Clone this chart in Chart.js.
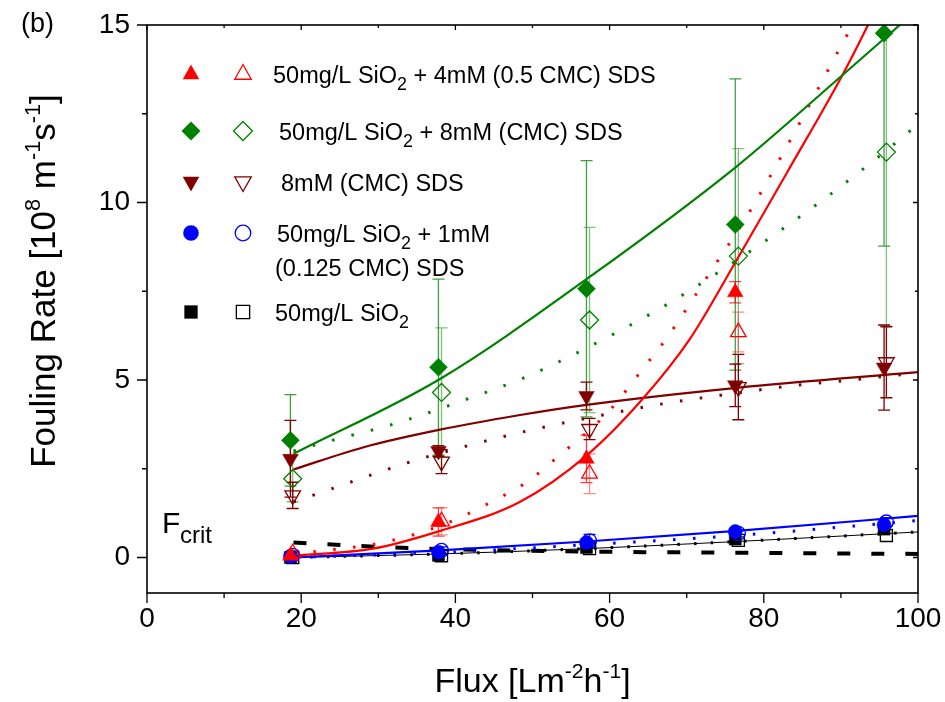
<!DOCTYPE html>
<html>
<head>
<meta charset="utf-8">
<script src="https://cdn.jsdelivr.net/npm/chart.js@4.4.0/dist/chart.umd.min.js"></script>
<style>
html, body { margin: 0; padding: 0; background: #fff; }
#wrap { width: 945px; height: 702px; }
</style>
</head>
<body>
<div id="wrap"><canvas id="fouling" width="945" height="702"></canvas></div>
<script>
var FONT = '"Liberation Sans", Arial, Helvetica, sans-serif';

// flux of the measured points (filled and open markers sit slightly apart)
var fluxFilled = [18.6, 37.8, 57.0, 76.3, 95.6];
var fluxOpen = [18.9, 38.2, 57.4, 76.7, 95.9];

var xTicks = [0, 20, 40, 60, 80, 100];
var yTicks = [0, 5, 10, 15];

var legendNames = [
  '50mg/L SiO_{2} + 4mM (0.5 CMC) SDS',
  '50mg/L SiO_{2} + 8mM (CMC) SDS',
  '8mM (CMC) SDS',
  '50mg/L SiO_{2} + 1mM',
  '50mg/L SiO_{2}'
];

// fouling rate [1e8 1/(m s)]
var redFilled = [0.05, 1.0, 2.78, 7.47, 17.0];
var redFilledErr = [0.08, 0.4, 0.67, 0.3, 0.5];
var redOpen = [0.12, 1.02, 2.36, 6.35, 16.0];
var redOpenErr = [0.08, 0.38, 0.56, 0.56, 0.5];

var greenFilled = [3.30, 5.36, 7.57, 9.38, 14.77];
var greenFilledErr = [1.29, 2.48, 3.61, 4.1, 6.0];
var greenOpen = [2.22, 4.65, 6.69, 8.49, 11.42];
var greenOpenErr = [0.65, 1.82, 2.61, 3.03, 4.9];

var maroonFilled = [2.78, 3.0, 4.55, 4.85, 5.35];
var maroonFilledErr = [1.08, 0.15, 0.39, 0.6, 1.2];
var maroonOpen = [1.75, 2.70, 3.62, 4.8, 5.5];
var maroonOpenErr = [0.37, 0.34, 0.3, 0.92, 1.0];

var blueFilled = [0.03, 0.15, 0.42, 0.73, 0.92];
var blueFilledErr = [0.05, 0.05, 0.1, 0.06, 0.08];
var blueOpen = [0.06, 0.2, 0.47, 0.68, 1.0];
var blueOpenErr = [0.08, 0.1, 0.18, 0.1, 0.12];

var blackFilled = [0.0, 0.06, 0.28, 0.52, 0.8];
var blackOpen = [0.0, 0.05, 0.25, 0.48, 0.62];

// fitted curves
var greenFitX = [19, 38, 57, 76.5, 90, 100];
var greenFitY = [2.92, 5.03, 7.84, 11.02, 13.55, 15.45];
var greenDotX = [19, 24, 32, 42, 49.3, 61, 68, 79, 87.7, 93.8, 100];
var greenDotY = [3.0, 3.3, 3.76, 4.5, 5.1, 6.35, 7.2, 8.74, 10.08, 11.1, 12.2];

var maroonFitX = [19, 28, 38, 48, 57, 76.5, 100];
var maroonFitY = [2.48, 3.1, 3.6, 4.0, 4.3, 4.78, 5.22];
var maroonDotX = [19, 21.5, 26.5, 33.8, 41.6, 49.4, 59.7, 67.5, 75.4, 83.4, 91.3, 100];
var maroonDotY = [1.57, 1.75, 2.13, 2.67, 3.15, 3.57, 4.04, 4.35, 4.6, 4.83, 5.0, 5.2];

var redFitX = [19, 29.3, 37.7, 48.4, 57, 64.3, 70.4, 76.3, 83, 90.1, 93.4, 100];
var redFitY = [0.05, 0.25, 0.73, 1.57, 2.87, 4.47, 6.15, 8.31, 10.84, 13.55, 14.95, 18.0];
var redDotX = [19, 22, 29.8, 35, 39.7, 44.7, 49.3, 53.3, 59.7, 64.3, 67.6, 73.4, 77.8, 84.3, 89.4, 92, 100];
var redDotY = [0.1, 0.17, 0.39, 0.67, 1.04, 1.57, 2.13, 2.84, 4.07, 5.31, 6.24, 8.15, 9.61, 12.1, 14.16, 15.2, 18.6];

var blueFitX = [19, 38, 57, 76.5, 100];
var blueFitY = [0.0, 0.2, 0.45, 0.75, 1.17];
var blueDotX = [19, 38, 57, 76.5, 100];
var blueDotY = [0.0, 0.14, 0.36, 0.62, 1.04];

var blackFitX = [19, 38, 57, 76.5, 100];
var blackFitY = [0.0, 0.1, 0.25, 0.45, 0.72];

var critX = [19, 30, 38, 50, 60, 80, 100];
var critY = [0.42, 0.3, 0.24, 0.19, 0.16, 0.13, 0.1];

function pts(xs, ys) {
  return xs.map(function (x, i) { return { x: x, y: ys[i] }; });
}

function markerSet(xs, ys, errs, style, color, filled, errColor, radius, rotation) {
  return {
    data: pts(xs, ys),
    showLine: false,
    pointStyle: style,
    pointRadius: radius,
    pointRotation: rotation || 0,
    pointBackgroundColor: filled ? color : 'rgba(0,0,0,0)',
    pointBorderColor: color,
    pointBorderWidth: filled ? 0.5 : 1.3,
    errorBars: errs,
    errorColor: errColor,
    order: 0
  };
}

function fitSet(xs, ys, color, width, dash) {
  return {
    data: pts(xs, ys),
    showLine: true,
    borderColor: color,
    borderWidth: width,
    borderDash: dash || [],
    pointRadius: 0,
    cubicInterpolationMode: 'monotone',
    fill: false,
    clip: 0,
    order: 1
  };
}

// rich text: ^{..} superscript, _{..} subscript
function parts(str) {
  var out = [];
  var re = /(\^\{[^}]*\}|_\{[^}]*\})/;
  str.split(re).forEach(function (s) {
    if (!s) return;
    if (s[0] === '^') out.push({ t: s.slice(2, -1), k: 'sup' });
    else if (s[0] === '_' && s[1] === '{') out.push({ t: s.slice(2, -1), k: 'sub' });
    else out.push({ t: s, k: '' });
  });
  return out;
}

function smallSize(p, size) {
  return p.k === 'sub' ? size * 0.76 : (p.k === 'sup' ? size * 0.62 : size);
}

function richWidth(ctx, str, size) {
  var w = 0;
  parts(str).forEach(function (p) {
    ctx.font = smallSize(p, size) + 'px ' + FONT;
    w += ctx.measureText(p.t).width;
  });
  return w;
}

function drawRich(ctx, str, x, y, size) {
  ctx.textBaseline = 'alphabetic';
  ctx.textAlign = 'left';
  parts(str).forEach(function (p) {
    var dy = p.k === 'sup' ? -size * 0.42 : (p.k === 'sub' ? size * 0.3 : 0);
    ctx.font = smallSize(p, size) + 'px ' + FONT;
    ctx.fillText(p.t, x, y + dy);
    x += ctx.measureText(p.t).width;
  });
}

function shape(ctx, kind, x, y, r, filled, color) {
  ctx.save();
  ctx.beginPath();
  if (kind === 'up') {
    ctx.moveTo(x, y - r); ctx.lineTo(x + r * 0.87, y + r * 0.55); ctx.lineTo(x - r * 0.87, y + r * 0.55);
  } else if (kind === 'down') {
    ctx.moveTo(x, y + r); ctx.lineTo(x + r * 0.87, y - r * 0.55); ctx.lineTo(x - r * 0.87, y - r * 0.55);
  } else if (kind === 'diamond') {
    ctx.moveTo(x, y - r); ctx.lineTo(x + r, y); ctx.lineTo(x, y + r); ctx.lineTo(x - r, y);
  } else if (kind === 'circle') {
    ctx.arc(x, y, r * 0.82, 0, Math.PI * 2);
  } else {
    var h = r * 0.7;
    ctx.rect(x - h, y - h, 2 * h, 2 * h);
  }
  ctx.closePath();
  if (filled) { ctx.fillStyle = color; ctx.fill(); }
  else { ctx.strokeStyle = color; ctx.lineWidth = 1.3; ctx.stroke(); }
  ctx.restore();
}

var errorBarPlugin = {
  id: 'errorBars',
  beforeDatasetsDraw: function (chart) {
    var ctx = chart.ctx, a = chart.chartArea;
    var xs = chart.scales.x, ys = chart.scales.y;
    ctx.save();
    ctx.beginPath();
    ctx.rect(a.left, a.top, a.right - a.left, a.bottom - a.top);
    ctx.clip();
    chart.data.datasets.forEach(function (ds) {
      if (!ds.errorBars) return;
      ctx.strokeStyle = ds.errorColor;
      ctx.lineWidth = 1.3;
      ds.data.forEach(function (p, i) {
        var e = ds.errorBars[i];
        if (!e) return;
        var px = xs.getPixelForValue(p.x);
        var t = ys.getPixelForValue(p.y + e);
        var b = ys.getPixelForValue(p.y - e);
        ctx.beginPath();
        ctx.moveTo(px, t); ctx.lineTo(px, b);
        ctx.moveTo(px - 6, t); ctx.lineTo(px + 6, t);
        ctx.moveTo(px - 6, b); ctx.lineTo(px + 6, b);
        ctx.stroke();
      });
    });
    ctx.restore();
  }
};

var frameAndTextPlugin = {
  id: 'frameText',
  afterDraw: function (chart) {
    var ctx = chart.ctx, a = chart.chartArea;
    var xs = chart.scales.x, ys = chart.scales.y;
    ctx.save();
    ctx.strokeStyle = '#000';
    ctx.lineWidth = 1.6;
    ctx.strokeRect(a.left, a.top, a.right - a.left, a.bottom - a.top);
    ctx.lineWidth = 1.3;
    ctx.beginPath();
    for (var v = 0; v <= 100; v += 10) {
      var px = xs.getPixelForValue(v);
      var big = v % 20 === 0;
      ctx.moveTo(px, a.bottom); ctx.lineTo(px, a.bottom + (big ? 10 : 5));
      ctx.moveTo(px, a.top); ctx.lineTo(px, a.top + (big ? 5 : 3));
    }
    for (var w = 0; w <= 15; w += 2.5) {
      var py = ys.getPixelForValue(w);
      var bigY = w % 5 === 0;
      ctx.moveTo(a.left, py); ctx.lineTo(a.left - (bigY ? 10 : 5), py);
      ctx.moveTo(a.right, py); ctx.lineTo(a.right - (bigY ? 5 : 3), py);
    }
    ctx.stroke();

    ctx.fillStyle = '#000';
    // axis titles
    var xt = 'Flux [Lm^{-2}h^{-1}]';
    var xw = richWidth(ctx, xt, 34);
    drawRich(ctx, xt, (a.left + a.right) / 2 - xw / 2, 692, 34);

    var yt = 'Fouling Rate [10^{8} m^{-1}s^{-1}]';
    var yw = richWidth(ctx, yt, 35);
    ctx.save();
    ctx.translate(55, 281);
    ctx.rotate(-Math.PI / 2);
    drawRich(ctx, yt, -yw / 2, 0, 35);
    ctx.restore();

    drawRich(ctx, '(b)', 21, 32, 27);
    drawRich(ctx, 'F', 162, 533, 30);
    drawRich(ctx, 'crit', 180, 543, 24);

    // legend
    var rows = [
      { y: 74, kind: 'up', c: '#ff0000', tx: 273 },
      { y: 131, kind: 'diamond', c: '#008000', tx: 279 },
      { y: 182, kind: 'down', c: '#800000', tx: 281 },
      { y: 233, kind: 'circle', c: '#0000ff', tx: 277 },
      { y: 312, kind: 'square', c: '#000000', tx: 275 }
    ];
    rows.forEach(function (r, i) {
      shape(ctx, r.kind, 191, r.y, 9.5, true, r.c);
      shape(ctx, r.kind, 243, r.y, 9.5, false, r.c);
      ctx.fillStyle = '#000';
      drawRich(ctx, legendNames[i], r.tx, r.y + 8.5, 23.5);
    });
    drawRich(ctx, '(0.125 CMC) SDS', 275, 275.5, 23.5);
    ctx.restore();
  }
};

var datasets = [
  markerSet(fluxFilled, greenFilled, greenFilledErr, 'rectRot', '#008000', true, 'rgba(0,128,0,0.75)', 9),
  markerSet(fluxOpen, greenOpen, greenOpenErr, 'rectRot', '#008000', false, 'rgba(40,150,40,0.6)', 9),
  markerSet(fluxFilled, redFilled, redFilledErr, 'triangle', '#ff0000', true, 'rgba(255,0,0,0.75)', 9),
  markerSet(fluxOpen, redOpen, redOpenErr, 'triangle', '#ff0000', false, 'rgba(255,60,60,0.6)', 9),
  markerSet(fluxFilled, maroonFilled, maroonFilledErr, 'triangle', '#800000', true, '#800000', 9, 180),
  markerSet(fluxOpen, maroonOpen, maroonOpenErr, 'triangle', '#800000', false, '#800000', 9, 180),
  markerSet(fluxFilled, blueFilled, blueFilledErr, 'circle', '#0000ff', true, '#0000ff', 7),
  markerSet(fluxOpen, blueOpen, blueOpenErr, 'circle', '#0000ff', false, '#0000ff', 7),
  markerSet(fluxFilled, blackFilled, null, 'rect', '#000000', true, '#000', 8.5),
  markerSet(fluxOpen, blackOpen, null, 'rect', '#000000', false, '#000', 8.5),

  fitSet(greenFitX, greenFitY, '#008000', 2.2),
  fitSet(greenDotX, greenDotY, '#008000', 3, [2.5, 17.5]),
  fitSet(redFitX, redFitY, '#ff0000', 2.2),
  fitSet(redDotX, redDotY, '#ff0000', 3, [2.5, 17.5]),
  fitSet(maroonFitX, maroonFitY, '#800000', 2.2),
  fitSet(maroonDotX, maroonDotY, '#800000', 3, [2.5, 17.5]),
  fitSet(blueFitX, blueFitY, '#0000ff', 2.2),
  fitSet(blueDotX, blueDotY, '#0000ff', 3, [2.5, 17.5]),
  fitSet(blackFitX, blackFitY, '#000000', 1),
  fitSet(blackFitX, blackFitY, '#000000', 3, [2.5, 14.2]),
  fitSet(critX, critY, '#000000', 4, [13, 21])
];

var chart = new Chart(document.getElementById('fouling'), {
  type: 'scatter',
  data: { datasets: datasets },
  plugins: [errorBarPlugin, frameAndTextPlugin],
  options: {
    responsive: false,
    animation: false,
    layout: { autoPadding: false, padding: { left: 0, right: 27, top: 25, bottom: 0 } },
    plugins: { legend: { display: false }, tooltip: { enabled: false } },
    scales: {
      x: {
        type: 'linear', min: 0, max: 100,
        afterBuildTicks: function (s) { s.ticks = xTicks.map(function (v) { return { value: v }; }); },
        afterFit: function (s) {
          s.height = 109;
          s.paddingLeft = 0; s.paddingRight = 0; s.paddingTop = 0; s.paddingBottom = 0;
        },
        grid: { display: false, drawTicks: false },
        border: { display: false },
        ticks: { font: { family: FONT, size: 28 }, color: '#000', padding: 9, maxRotation: 0, autoSkip: false }
      },
      y: {
        type: 'linear', min: -1, max: 15,
        afterBuildTicks: function (s) { s.ticks = yTicks.map(function (v) { return { value: v }; }); },
        afterFit: function (s) {
          s.width = 147;
          s.paddingLeft = 0; s.paddingRight = 0; s.paddingTop = 0; s.paddingBottom = 0;
        },
        grid: { display: false, drawTicks: false },
        border: { display: false },
        ticks: { font: { family: FONT, size: 28 }, color: '#000', padding: 17, autoSkip: false }
      }
    }
  }
});
</script>
</body>
</html>
